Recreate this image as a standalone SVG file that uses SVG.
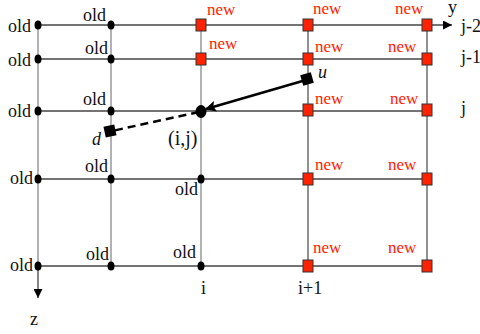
<svg xmlns="http://www.w3.org/2000/svg" width="480" height="334" viewBox="0 0 480 334">
<style>
text{font-family:"Liberation Serif","Times New Roman",serif;font-size:18px;fill:#111}
.new{fill:#ff2200;font-size:17px}
.hl{stroke:#444;stroke-width:1.3;fill:none}
.vl{stroke:#999;stroke-width:1.5;fill:none}
.vd{stroke:#555;stroke-width:1.3;fill:none}
.old{fill:#000}
.sq{fill:#ff2200;stroke:#333;stroke-width:1}
</style>
<defs>
<marker id="ah" viewBox="0 0 10 10" refX="10" refY="5" markerWidth="11" markerHeight="9" markerUnits="userSpaceOnUse" orient="auto">
<path d="M0,0 L10,5 L0,10 Z" fill="#000"/>
</marker>
<marker id="ah2" viewBox="0 0 10 10" refX="9" refY="5" markerWidth="14" markerHeight="11" markerUnits="userSpaceOnUse" orient="auto">
<path d="M0,0 L10,5 L0,10 L2,5 Z" fill="#000"/>
</marker>
</defs>
<g id="grid">
<line class="hl" x1="38" y1="25" x2="452" y2="25" marker-end="url(#ah)"/>
<line class="hl" x1="38" y1="59" x2="427" y2="59"/>
<line class="hl" x1="38" y1="111" x2="427" y2="111"/>
<line class="hl" x1="38" y1="179" x2="427" y2="179"/>
<line class="hl" x1="38" y1="266" x2="427" y2="266"/>
<line class="vl" x1="38" y1="25" x2="38" y2="266"/>
<line class="hl" x1="38" y1="266" x2="38" y2="298" marker-end="url(#ah)"/>
<line class="vl" x1="111" y1="25" x2="111" y2="266"/>
<line class="vl" x1="201" y1="25" x2="201" y2="266"/>
<line class="vd" x1="308" y1="25" x2="308" y2="266"/>
<line class="vd" x1="427" y1="25" x2="427" y2="266"/>
</g>
<g id="connectors">
<line x1="306" y1="80" x2="206" y2="109" stroke="#000" stroke-width="2.5" marker-end="url(#ah2)"/>
<line x1="199" y1="112" x2="112" y2="131" stroke="#000" stroke-width="2.5" stroke-dasharray="8,5"/>
<rect x="301.5" y="73.5" width="11" height="11" fill="#000" transform="rotate(-16 307 79)"/>
<rect x="104.5" y="125.5" width="11" height="11" fill="#000" transform="rotate(-12 110 131)"/>
</g>
<g id="old-nodes">
<ellipse class="old" cx="38" cy="25" rx="3.5" ry="4.5"/>
<ellipse class="old" cx="111" cy="25" rx="3.5" ry="4.5"/>
<ellipse class="old" cx="38" cy="59" rx="3.5" ry="4.5"/>
<ellipse class="old" cx="111" cy="59" rx="3.5" ry="4.5"/>
<ellipse class="old" cx="38" cy="111" rx="3.5" ry="4.5"/>
<ellipse class="old" cx="111" cy="111" rx="3.5" ry="4.5"/>
<ellipse class="old" cx="38" cy="179" rx="3.5" ry="4.5"/>
<ellipse class="old" cx="111" cy="179" rx="3.5" ry="4.5"/>
<ellipse class="old" cx="201" cy="179" rx="3.5" ry="4.5"/>
<ellipse class="old" cx="38" cy="266" rx="3.5" ry="4.5"/>
<ellipse class="old" cx="111" cy="266" rx="3.5" ry="4.5"/>
<ellipse class="old" cx="201" cy="266" rx="3.5" ry="4.5"/>
</g>
<g id="node-ij">
<ellipse class="old" cx="201" cy="111.5" rx="5.5" ry="6.5"/>
</g>
<g id="new-nodes">
<rect class="sq" x="196" y="19" width="10" height="12"/>
<rect class="sq" x="303" y="19" width="10" height="12"/>
<rect class="sq" x="422" y="19" width="10" height="12"/>
<rect class="sq" x="196" y="53" width="10" height="12"/>
<rect class="sq" x="303" y="53" width="10" height="12"/>
<rect class="sq" x="422" y="53" width="10" height="12"/>
<rect class="sq" x="303" y="104" width="10" height="12"/>
<rect class="sq" x="422" y="104" width="10" height="12"/>
<rect class="sq" x="303" y="173" width="10" height="12"/>
<rect class="sq" x="422" y="173" width="10" height="12"/>
<rect class="sq" x="303" y="260" width="10" height="12"/>
<rect class="sq" x="422" y="260" width="10" height="12"/>
</g>
<g id="labels">
<text x="8" y="32">old</text>
<text x="83" y="21">old</text>
<text x="8" y="66">old</text>
<text x="85" y="54">old</text>
<text x="8" y="117">old</text>
<text x="83" y="105">old</text>
<text x="10" y="184">old</text>
<text x="85" y="172">old</text>
<text x="175" y="195">old</text>
<text x="10" y="271">old</text>
<text x="86" y="260">old</text>
<text x="173" y="258">old</text>
<text class="new" x="207" y="15">new</text>
<text class="new" x="313" y="14">new</text>
<text class="new" x="395" y="14">new</text>
<text class="new" x="209" y="49">new</text>
<text class="new" x="315" y="52">new</text>
<text class="new" x="388" y="52">new</text>
<text class="new" x="315" y="104">new</text>
<text class="new" x="390" y="104">new</text>
<text class="new" x="315" y="170">new</text>
<text class="new" x="388" y="170">new</text>
<text class="new" x="313" y="253">new</text>
<text class="new" x="388" y="253">new</text>
<text x="168" y="145" style="font-size:20px">(i,j)</text>
<text x="92" y="145" font-style="italic">d</text>
<text x="318" y="78" font-style="italic">u</text>
<text x="201" y="294">i</text>
<text x="298" y="294">i+1</text>
<text x="30" y="325">z</text>
<text x="448" y="13">y</text>
<text x="461" y="32">j-2</text>
<text x="461" y="63">j-1</text>
<text x="461" y="114">j</text>
</g>
</svg>
